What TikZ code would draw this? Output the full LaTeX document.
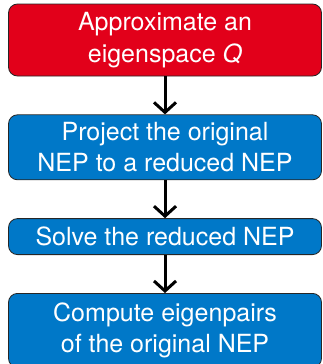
\documentclass[tikz,border=0pt]{standalone}
\usepackage{fontspec}
\setmainfont{TeX Gyre Heros}
\usepackage{tikz}
\usetikzlibrary{positioning,arrows.meta}
\definecolor{nepred}{RGB}{226,0,26}
\definecolor{nepblue}{RGB}{0,120,200}
\tikzset{
stepnode/.style = {rectangle, rounded corners=9bp, draw=black!85, line width=0.8bp,
  fill=nepblue, text=white, minimum width=313bp, minimum height=#1,
  align=center, inner sep=2pt, font=\fontsize{25bp}{31.5bp}\selectfont},
stepnode/.default = 36bp % one line of text
}
\tikzset{
flowarrow/.style = {line width=3bp, -{Straight Barb[length=10bp,width=22bp]}}
}

\begin{document}
\begin{tikzpicture}[node distance=38bp]
    \useasboundingbox (0,0) rectangle (323bp,-364bp);
    \node [stepnode=72bp, fill=nepred] (approx) at (165bp,-40bp) {Approximate an\\eigenspace \textit{Q}};
    \node [stepnode=65bp, below=of approx] (project) {Project the original\\NEP to a reduced NEP};
    \node [stepnode, below=of project] (solve) {Solve the reduced NEP};
    \node [stepnode=74bp, below=of solve] (compute) {Compute eigenpairs\\of the original NEP};
    % arrows between the steps
    \draw [flowarrow] (approx) -- (project);
    \draw [flowarrow] (project) -- (solve);
    \draw [flowarrow] (solve) -- (compute);
\end{tikzpicture}
\end{document}
